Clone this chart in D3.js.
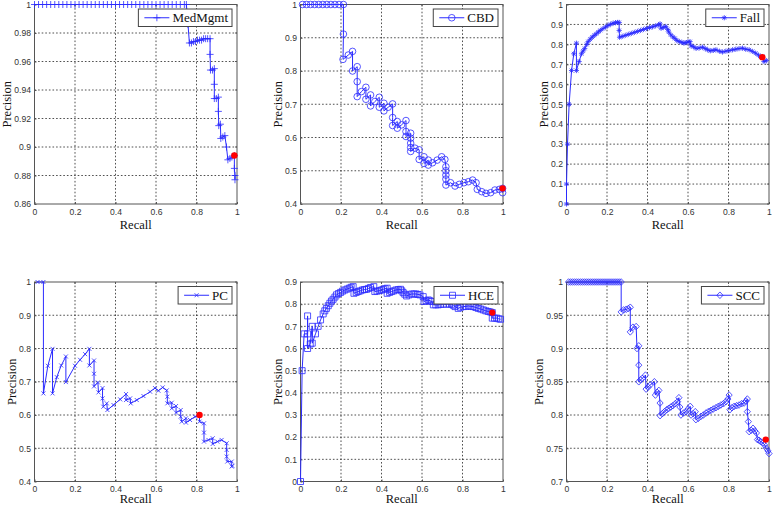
<!DOCTYPE html>
<html><head><meta charset="utf-8">
<script src="https://cdn.jsdelivr.net/npm/d3@7/dist/d3.min.js"></script>
<style>body{margin:0;background:#fff}</style>
</head><body>
<svg id="c" width="773" height="507"></svg>
<script>
// ---------- DATA ----------
const xTicks = [0, 0.2, 0.4, 0.6, 0.8, 1];
const yTicksMedMgmt = [0.86, 0.88, 0.9, 0.92, 0.94, 0.96, 0.98, 1];
const yTicksCBD = [0.4, 0.5, 0.6, 0.7, 0.8, 0.9, 1];
const yTicksFall = [0, 0.1, 0.2, 0.3, 0.4, 0.5, 0.6, 0.7, 0.8, 0.9, 1];
const yTicksPC = [0.4, 0.5, 0.6, 0.7, 0.8, 0.9, 1];
const yTicksHCE = [0, 0.1, 0.2, 0.3, 0.4, 0.5, 0.6, 0.7, 0.8, 0.9];
const yTicksSCC = [0.7, 0.75, 0.8, 0.85, 0.9, 0.95, 1];

// [recall, precision]
const medMgmt = [[0,1],[0.02,1],[0.04,1],[0.06,1],[0.08,1],[0.1,1],[0.12,1],[0.14,1],[0.16,1],[0.18,1],[0.2,1],[0.22,1],[0.24,1],[0.26,1],[0.28,1],[0.3,1],[0.32,1],[0.34,1],[0.36,1],[0.38,1],[0.4,1],[0.42,1],[0.44,1],[0.46,1],[0.48,1],[0.5,1],[0.52,1],[0.54,1],[0.56,1],[0.58,1],[0.6,1],[0.62,1],[0.64,1],[0.66,1],[0.68,1],[0.7,1],[0.72,1],[0.74,1],[0.75,1],
[0.758,0.986],[0.765,0.973],[0.775,0.973],[0.785,0.974],[0.795,0.974],[0.805,0.975],[0.815,0.975],[0.825,0.975],[0.835,0.976],[0.845,0.976],[0.855,0.976],[0.867,0.976],
[0.867,0.965],[0.869,0.954],[0.879,0.954],[0.888,0.955],[0.888,0.944],[0.888,0.934],[0.898,0.934],[0.908,0.935],[0.908,0.925],[0.91,0.915],[0.918,0.916],[0.92,0.906],[0.93,0.907],[0.94,0.908],[0.948,0.9],[0.955,0.891],[0.965,0.892],[0.975,0.893],[0.987,0.894],[0.987,0.885],[0.99,0.88],[0.99,0.877]];
const medMgmtBest = [0.987, 0.894];

const cbd = [[0.01,1],[0.03,1],[0.05,1],[0.07,1],[0.09,1],[0.11,1],[0.13,1],[0.15,1],[0.17,1],[0.19,1],[0.212,1],[0.212,0.911],[0.21,0.835],[0.236,0.848],[0.257,0.859],[0.257,0.8],[0.28,0.813],[0.28,0.768],[0.28,0.723],[0.301,0.738],[0.323,0.751],[0.323,0.715],[0.346,0.728],[0.346,0.695],[0.367,0.708],[0.389,0.721],[0.389,0.691],[0.412,0.703],[0.412,0.68],[0.433,0.691],[0.455,0.701],[0.455,0.66],[0.455,0.636],[0.478,0.648],[0.478,0.628],[0.499,0.638],[0.521,0.651],[0.521,0.618],[0.521,0.603],[0.544,0.613],[0.544,0.598],[0.544,0.583],[0.544,0.57],[0.544,0.558],[0.565,0.568],[0.586,0.563],[0.586,0.534],[0.61,0.542],[0.61,0.522],[0.631,0.532],[0.631,0.517],[0.652,0.524],[0.675,0.532],[0.697,0.542],[0.713,0.534],[0.718,0.512],[0.718,0.5],[0.718,0.487],[0.718,0.475],[0.718,0.457],[0.741,0.464],[0.763,0.454],[0.784,0.459],[0.807,0.464],[0.829,0.467],[0.85,0.472],[0.867,0.464],[0.873,0.444],[0.895,0.437],[0.916,0.432],[0.939,0.434],[0.96,0.442],[0.982,0.444],[0.998,0.447],[0.998,0.434]];
const cbdBest = [0.998, 0.447];

const fall = [[0,0],[0,0.1],[0.005,0.3],[0.013,0.5],[0.025,0.669],[0.036,0.753],[0.049,0.806],[0.049,0.669],[0.062,0.714],[0.074,0.753],[0.082,0.767],[0.09,0.78],[0.1,0.8],[0.107,0.814],[0.117,0.826],[0.127,0.836],[0.137,0.845],[0.147,0.853],[0.157,0.862],[0.167,0.87],[0.18,0.879],[0.193,0.887],[0.205,0.895],[0.218,0.901],[0.23,0.906],[0.242,0.909],[0.252,0.91],[0.26,0.91],[0.26,0.87],[0.262,0.836],[0.275,0.84],[0.29,0.845],[0.305,0.85],[0.32,0.855],[0.335,0.86],[0.35,0.865],[0.365,0.87],[0.38,0.875],[0.395,0.88],[0.41,0.884],[0.425,0.888],[0.44,0.893],[0.455,0.898],[0.462,0.903],[0.467,0.881],[0.478,0.885],[0.49,0.89],[0.5,0.875],[0.505,0.862],[0.515,0.848],[0.525,0.838],[0.535,0.83],[0.545,0.82],[0.557,0.814],[0.57,0.81],[0.58,0.806],[0.59,0.809],[0.6,0.812],[0.61,0.814],[0.615,0.793],[0.628,0.788],[0.64,0.78],[0.655,0.782],[0.672,0.786],[0.685,0.779],[0.697,0.773],[0.71,0.768],[0.725,0.77],[0.738,0.773],[0.755,0.766],[0.77,0.762],[0.787,0.766],[0.803,0.769],[0.82,0.773],[0.836,0.776],[0.852,0.779],[0.869,0.781],[0.885,0.776],[0.902,0.773],[0.918,0.765],[0.934,0.756],[0.948,0.746],[0.959,0.736],[0.967,0.739],[0.975,0.714],[0.987,0.719]];
const fallBest = [0.967, 0.736];

const pc = [[0.015,1],[0.044,1],[0.044,0.665],[0.066,0.748],[0.089,0.799],[0.089,0.665],[0.11,0.714],[0.132,0.749],[0.155,0.776],[0.155,0.699],[0.2,0.748],[0.225,0.766],[0.25,0.783],[0.271,0.799],[0.271,0.749],[0.294,0.764],[0.294,0.724],[0.294,0.686],[0.313,0.698],[0.316,0.668],[0.336,0.681],[0.336,0.65],[0.34,0.625],[0.357,0.635],[0.36,0.615],[0.39,0.63],[0.423,0.647],[0.452,0.663],[0.452,0.645],[0.472,0.65],[0.475,0.635],[0.505,0.645],[0.538,0.657],[0.571,0.67],[0.595,0.681],[0.612,0.673],[0.633,0.683],[0.653,0.674],[0.656,0.655],[0.656,0.635],[0.678,0.637],[0.678,0.62],[0.699,0.627],[0.699,0.607],[0.722,0.615],[0.722,0.595],[0.727,0.58],[0.748,0.59],[0.748,0.577],[0.768,0.585],[0.793,0.595],[0.815,0.6],[0.815,0.58],[0.837,0.575],[0.837,0.547],[0.837,0.52],[0.859,0.525],[0.88,0.53],[0.88,0.513],[0.903,0.52],[0.924,0.525],[0.949,0.515],[0.949,0.495],[0.949,0.475],[0.952,0.46],[0.974,0.46],[0.974,0.445],[0.977,0.447]];
const pcBest = [0.815, 0.6];

const hce = [[0,0],[0.008,0.5],[0.018,0.666],[0.035,0.666],[0.035,0.747],[0.035,0.6],[0.048,0.62],[0.058,0.7],[0.058,0.624],[0.074,0.666],[0.087,0.7],[0.099,0.729],[0.112,0.756],[0.12,0.77],[0.128,0.781],[0.137,0.793],[0.145,0.804],[0.153,0.814],[0.161,0.822],[0.17,0.832],[0.178,0.842],[0.188,0.848],[0.198,0.853],[0.208,0.859],[0.219,0.864],[0.23,0.868],[0.241,0.872],[0.25,0.876],[0.26,0.879],[0.264,0.849],[0.275,0.853],[0.285,0.857],[0.295,0.86],[0.306,0.864],[0.316,0.866],[0.326,0.867],[0.336,0.871],[0.346,0.875],[0.362,0.879],[0.367,0.857],[0.378,0.859],[0.389,0.861],[0.4,0.864],[0.409,0.867],[0.418,0.87],[0.428,0.872],[0.428,0.849],[0.44,0.853],[0.45,0.857],[0.46,0.86],[0.471,0.864],[0.483,0.866],[0.494,0.867],[0.5,0.86],[0.507,0.852],[0.515,0.845],[0.524,0.837],[0.536,0.842],[0.549,0.846],[0.56,0.846],[0.57,0.846],[0.58,0.844],[0.59,0.842],[0.606,0.834],[0.61,0.812],[0.62,0.816],[0.631,0.819],[0.64,0.815],[0.647,0.812],[0.656,0.797],[0.668,0.797],[0.68,0.797],[0.692,0.799],[0.705,0.8],[0.72,0.8],[0.735,0.8],[0.746,0.8],[0.755,0.795],[0.763,0.789],[0.779,0.781],[0.79,0.786],[0.804,0.789],[0.817,0.79],[0.829,0.792],[0.841,0.79],[0.853,0.789],[0.866,0.785],[0.878,0.781],[0.89,0.778],[0.903,0.774],[0.915,0.77],[0.927,0.767],[0.937,0.765],[0.947,0.762],[0.947,0.737],[0.958,0.737],[0.969,0.737],[0.979,0.734],[0.988,0.732]];
const hceBest = [0.947, 0.762];

const scc = [[0.01,1],[0.02,1],[0.03,1],[0.04,1],[0.05,1],[0.06,1],[0.07,1],[0.08,1],[0.09,1],[0.1,1],[0.11,1],[0.12,1],[0.13,1],[0.14,1],[0.15,1],[0.16,1],[0.17,1],[0.18,1],[0.19,1],[0.2,1],[0.21,1],[0.22,1],[0.23,1],[0.24,1],[0.25,1],[0.26,1],[0.27,1],
[0.27,0.955],[0.282,0.958],[0.295,0.959],[0.305,0.96],[0.315,0.962],[0.315,0.925],[0.328,0.932],[0.344,0.933],[0.348,0.9],[0.357,0.904],[0.357,0.875],[0.357,0.85],[0.366,0.853],[0.374,0.855],[0.39,0.86],[0.393,0.839],[0.403,0.842],[0.413,0.845],[0.434,0.85],[0.439,0.83],[0.448,0.834],[0.456,0.837],[0.462,0.818],[0.462,0.799],[0.473,0.802],[0.484,0.805],[0.495,0.808],[0.505,0.81],[0.515,0.812],[0.525,0.814],[0.537,0.817],[0.549,0.82],[0.555,0.826],[0.56,0.812],[0.565,0.8],[0.578,0.803],[0.59,0.805],[0.6,0.809],[0.611,0.813],[0.615,0.8],[0.625,0.802],[0.636,0.805],[0.639,0.793],[0.651,0.795],[0.664,0.798],[0.676,0.8],[0.689,0.803],[0.7,0.805],[0.713,0.807],[0.725,0.809],[0.738,0.811],[0.75,0.813],[0.762,0.815],[0.775,0.817],[0.787,0.82],[0.797,0.824],[0.803,0.83],[0.807,0.808],[0.817,0.811],[0.828,0.813],[0.84,0.814],[0.852,0.815],[0.865,0.817],[0.877,0.818],[0.887,0.821],[0.893,0.824],[0.893,0.805],[0.898,0.79],[0.902,0.775],[0.912,0.777],[0.921,0.78],[0.93,0.776],[0.938,0.773],[0.943,0.763],[0.951,0.762],[0.959,0.76],[0.97,0.758],[0.978,0.755],[0.987,0.75],[0.995,0.746],[1.0,0.742]];
const sccBest = [0.984, 0.763];

// ---------- LAYOUT / STYLE ----------
const svg = d3.select('#c');
const cols = [34.5, 300.5, 566.5], rows = [4.5, 282];
const W = 202.5, H = 199.5;
const BLUE = '#2b2bff';
const SANS = "'Liberation Sans', Arial, sans-serif";
const SERIF = "'Liberation Serif', 'Times New Roman', serif";

const markerPath = {
  plus: 'M-3.5,0H3.5M0,-3.5V3.5',
  circle: 'M3.3,0A3.3,3.3 0 1,1 -3.3,0A3.3,3.3 0 1,1 3.3,0Z',
  star: 'M-2.6,0H2.6M0,-2.6V2.6M-1.9,-1.9L1.9,1.9M-1.9,1.9L1.9,-1.9',
  cross: 'M-2,-2L2,2M-2,2L2,-2',
  square: 'M-3,-3H3V3H-3Z',
  diamond: 'M0,-3.3L3.1,0L0,3.3L-3.1,0Z'
};

const panels = [
  {name:'MedMgmt', data:medMgmt, best:medMgmtBest, yDomain:[0.86,1], yTicks:yTicksMedMgmt, marker:'plus', col:0, row:0},
  {name:'CBD', data:cbd, best:cbdBest, yDomain:[0.4,1], yTicks:yTicksCBD, marker:'circle', col:1, row:0},
  {name:'Fall', data:fall, best:fallBest, yDomain:[0,1], yTicks:yTicksFall, marker:'star', col:2, row:0},
  {name:'PC', data:pc, best:pcBest, yDomain:[0.4,1], yTicks:yTicksPC, marker:'cross', col:0, row:1},
  {name:'HCE', data:hce, best:hceBest, yDomain:[0,0.9], yTicks:yTicksHCE, marker:'square', col:1, row:1},
  {name:'SCC', data:scc, best:sccBest, yDomain:[0.7,1], yTicks:yTicksSCC, marker:'diamond', col:2, row:1}
];

const fmt = d => String(+d.toFixed(2));

panels.forEach((p, i) => {
  const g = svg.append('g').attr('transform', `translate(${cols[p.col]},${rows[p.row]})`);
  const x = d3.scaleLinear().domain([0, 1]).range([0, W]);
  const y = d3.scaleLinear().domain(p.yDomain).range([H, 0]);

  // grid
  g.append('g').selectAll('line').data(xTicks.slice(1, -1)).join('line')
    .attr('x1', d => x(d)).attr('x2', d => x(d)).attr('y1', 0).attr('y2', H)
    .attr('stroke', '#222').attr('stroke-width', 0.8).attr('stroke-dasharray', '1.6,2');
  g.append('g').selectAll('line').data(p.yTicks.slice(1, -1)).join('line')
    .attr('y1', d => y(d)).attr('y2', d => y(d)).attr('x1', 0).attr('x2', W)
    .attr('stroke', '#222').attr('stroke-width', 0.8).attr('stroke-dasharray', '1.6,2');

  // axes
  const ax = g.append('g').attr('transform', `translate(0,${H})`)
    .call(d3.axisBottom(x).tickValues(xTicks).tickFormat(fmt).tickSize(-2).tickPadding(4.5));
  const ay = g.append('g')
    .call(d3.axisLeft(y).tickValues(p.yTicks).tickFormat(fmt).tickSize(-2).tickPadding(3.5));
  [ax, ay].forEach(a => {
    a.select('.domain').remove();
    a.attr('font-family', SANS).attr('font-size', 8.6);
    a.selectAll('text').attr('fill', '#333');
    a.selectAll('line').attr('stroke', '#555');
  });
  // top/right ticks
  g.append('g').selectAll('line').data(xTicks).join('line')
    .attr('x1', d => x(d)).attr('x2', d => x(d)).attr('y1', 0).attr('y2', 2).attr('stroke', '#555');
  g.append('g').selectAll('line').data(p.yTicks).join('line')
    .attr('y1', d => y(d)).attr('y2', d => y(d)).attr('x1', W).attr('x2', W - 2).attr('stroke', '#555');

  // frame
  g.append('rect').attr('width', W).attr('height', H).attr('fill', 'none')
    .attr('stroke', '#555').attr('stroke-width', 1);

  // axis titles
  let maxW = 0;
  ay.selectAll('text').each(function () { maxW = Math.max(maxW, this.getComputedTextLength()); });
  g.append('text').text('Recall').attr('x', W / 2).attr('y', p.row === 0 ? H + 25 : H + 21.5)
    .attr('text-anchor', 'middle').attr('font-family', SERIF).attr('font-size', 12.5).attr('fill', '#111');
  g.append('text').text('Precision')
    .attr('transform', `translate(${-3.5 - maxW - 3.5},${H / 2}) rotate(-90)`)
    .attr('text-anchor', 'middle').attr('font-family', SERIF).attr('font-size', 12.5).attr('fill', '#111');

  // data line + markers
  const line = d3.line().x(d => x(d[0])).y(d => y(d[1]));
  g.append('path').datum(p.data).attr('d', line).attr('fill', 'none')
    .attr('stroke', BLUE).attr('stroke-width', 1);
  g.append('g').selectAll('path').data(p.data).join('path')
    .attr('transform', d => `translate(${x(d[0])},${y(d[1])})`)
    .attr('d', markerPath[p.marker]).attr('fill', 'none')
    .attr('stroke', BLUE).attr('stroke-width', 0.8);

  // best point (red)
  g.append('circle').attr('cx', x(p.best[0])).attr('cy', y(p.best[1])).attr('r', 3.2).attr('fill', '#f00');

  // legend
  const lg = g.append('g');
  const txt = lg.append('text').text(p.name).attr('font-family', SERIF).attr('font-size', 13).attr('fill', '#111');
  const tw = txt.node().getComputedTextLength();
  const bw = 6 + 25 + 3 + tw + 4, bh = 17.5;
  const bx = W - 5 - bw, by = 4.5;
  lg.insert('rect', 'text').attr('x', bx).attr('y', by).attr('width', bw).attr('height', bh)
    .attr('fill', '#fff').attr('stroke', '#444').attr('stroke-width', 1);
  lg.append('line').attr('x1', bx + 6).attr('x2', bx + 31).attr('y1', by + bh / 2).attr('y2', by + bh / 2)
    .attr('stroke', BLUE).attr('stroke-width', 1);
  lg.append('path').attr('transform', `translate(${bx + 18.5},${by + bh / 2})`)
    .attr('d', markerPath[p.marker]).attr('fill', 'none').attr('stroke', BLUE).attr('stroke-width', 0.8);
  txt.attr('x', bx + 34).attr('y', by + bh / 2 + 4.5);
});
</script>
</body></html>
